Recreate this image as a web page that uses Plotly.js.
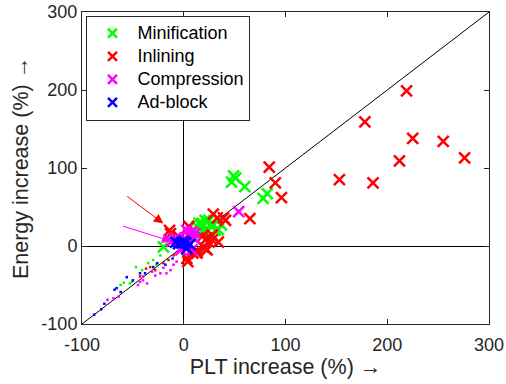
<!DOCTYPE html>
<html>
<head>
<meta charset="utf-8">
<script src="https://cdn.plot.ly/plotly-3.0.1.min.js"></script>
<style>
html,body{margin:0;padding:0;background:#fff;}
#chart{width:506px;height:384px;}
.legendtext{font-size:18px !important;}
</style>
</head>
<body>
<div id="chart"></div>
<script>
// ---- data ----
const seriesNames = ["Minification", "Inlining", "Compression", "Ad-block"];
const seriesColors = ["#00ff00", "#ff0000", "#ff00ff", "#0000ff"];

const minifX = [49, 47, 51, 60, 78, 82, 34, 23, 15, 21, 26, 37, 31, 16, 21, -20, 13, 18, 28, 8, 10, 25];
const minifY = [90, 82, 87, 76, 61, 67, 21, 31, 29, 33, 27, 27, 20, 16, 18, -1, 25, 29, 25, 12, 20, 33];

const inlinX = [219, 178, 225, 255, 212, 276, 153, 186, 84, 90, 96, 65, 39, 29, 28, -14, 4, 21, 13, -13, 5, -5, 33, 41, 18, 23, 19, 13, 3, 28, 34, 9, 23];
const inlinY = [199, 159, 138, 134, 109, 113, 85, 81, 101, 81, 62, 35, 36, 41, 14, 20, -20, -3, -9, 16, 25, 12, 36, 33, 12, 10, -1, -7, -16, 8, 5, -9, -5];

const comprX = [54, 5, 8, 11, 5, 2, 0, -3, 8, -12, -8, 10, 3];
const comprY = [44, 16, 18, 16, 12, 8, -1, -5, -5, 6, 10, 10, 20];

const adblkX = [-8, -2, 2, 3, -5, 0, 6];
const adblkY = [5, 4, 4, -3, 3, 6, 2];

// small dots (per-page samples)
const minifDotX = [-59, -53, -47, -35, -23, -51, -41, -62, -30, -27];
const minifDotY = [-47, -48, -27, -22, -12, -46, -31, -50, -18, -24];
const inlinDotX = [-28, -15, -33, -43, -20, -10, -37];
const inlinDotY = [-31, -18, -27, -39, -22, -12, -29];
const comprDotX = [-75, -40, -36, -31, -23, -17, -13, -7, -40, -43, -69, -64, -45, -28, -20, -10];
const comprDotY = [-69, -39, -48, -33, -35, -35, -31, -20, -44, -46, -67, -65, -50, -38, -28, -24];
const adblkDotX = [-81, -78, -68, -66, -56, -43, -26, -18, -11, -62, -38, -88, -50, -30];
const adblkDotY = [-81, -74, -56, -54, -40, -35, -22, -24, -16, -59, -35, -88, -44, -27];

const diagonal = [-100, 300];
const xTicks = [-100, 0, 100, 200, 300];
const yTicks = [-100, 0, 100, 200, 300];

// arrows: [tailX, tailY, headX, headY]
const redArrow = [-57, 65, -20, 29];
const magentaArrow = [-61, 26, -12, 6];

// ---- traces ----
const dotSets = [[minifDotX, minifDotY], [inlinDotX, inlinDotY], [comprDotX, comprDotY], [adblkDotX, adblkDotY]];
const markSets = [[minifX, minifY], [inlinX, inlinY], [comprX, comprY], [adblkX, adblkY]];

const traces = [];
traces.push({x: diagonal, y: diagonal, mode: "lines", line: {color: "#000", width: 1}, showlegend: false, hoverinfo: "skip"});
dotSets.forEach((d, i) => traces.push({
  x: d[0], y: d[1], mode: "markers", showlegend: false,
  marker: {symbol: "square", size: 2.5, color: seriesColors[i], line: {width: 0}}
}));
markSets.forEach((d, i) => traces.push({
  x: d[0], y: d[1], mode: "markers", showlegend: false,
  marker: {symbol: "x-thin", size: 11, line: {color: seriesColors[i], width: 2.5}}
}));
seriesNames.forEach((n, i) => traces.push({
  x: [null], y: [null], mode: "markers", name: n,
  marker: {symbol: "x-thin", size: 9, line: {color: seriesColors[i], width: 2.5}}
}));

const axisCommon = {
  tickmode: "array", ticks: "inside", ticklen: 5, tickwidth: 1, tickcolor: "#262626",
  showline: true, linecolor: "#262626", linewidth: 1, mirror: "ticks",
  showgrid: false, zeroline: true, zerolinecolor: "#000", zerolinewidth: 1,
  tickfont: {family: "Liberation Sans, Arial, sans-serif", size: 18, color: "#262626"}
};

const arrow = (a, color) => ({
  x: a[2], y: a[3], ax: a[0], ay: a[1], xref: "x", yref: "y", axref: "x", ayref: "y",
  showarrow: true, arrowhead: 2, arrowsize: 1.9, arrowwidth: 1, arrowcolor: color, text: ""
});

const layout = {
  width: 506, height: 384,
  margin: {l: 81.5, r: 17, t: 12, b: 60},
  paper_bgcolor: "#fff", plot_bgcolor: "#fff",
  font: {family: "Liberation Sans, Arial, sans-serif", color: "#262626"},
  xaxis: Object.assign({}, axisCommon, {
    range: [-100, 300], tickvals: xTicks, ticktext: xTicks.map(String), ticklabelstandoff: 4,
    title: {text: "PLT increase (%) \u2192", font: {size: 21.5, color: "#262626"}, standoff: 4}
  }),
  yaxis: Object.assign({}, axisCommon, {
    range: [-100, 300], tickvals: yTicks, ticktext: yTicks.map(String),
    title: {text: "Energy increase (%) \u2192", font: {size: 21.5, color: "#262626"}, standoff: 6}
  }),
  showlegend: true,
  legend: {
    x: 0.011, y: 0.988, xanchor: "left", yanchor: "top",
    bgcolor: "#fff", bordercolor: "#262626", borderwidth: 1,
    font: {size: 15.4, color: "#000"}, itemwidth: 40, tracegroupgap: 0
  },
  annotations: [arrow(redArrow, "#ff0000"), arrow(magentaArrow, "#ff00ff")]
};

Plotly.newPlot("chart", traces, layout, {displayModeBar: false, staticPlot: true});
</script>
</body>
</html>
